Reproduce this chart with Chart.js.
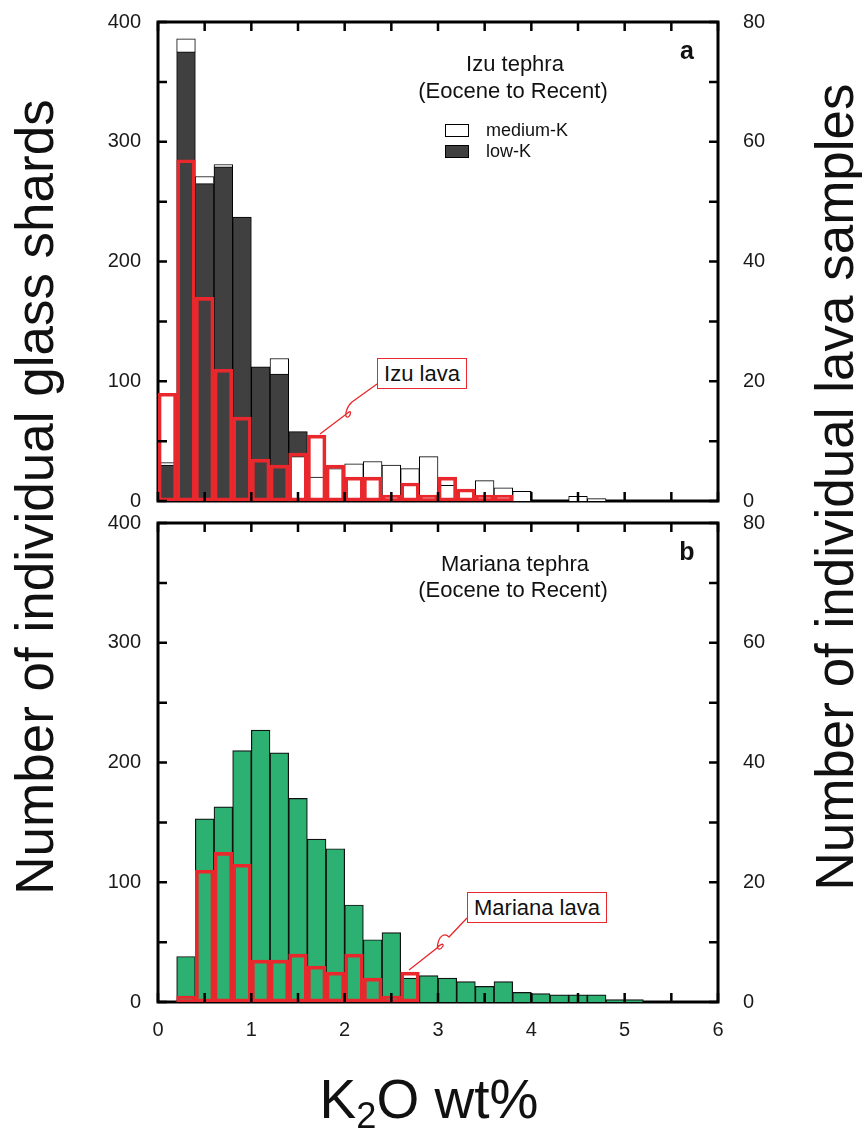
<!DOCTYPE html>
<html><head><meta charset="utf-8">
<script src="https://cdn.jsdelivr.net/npm/chart.js@4.4.1/dist/chart.umd.min.js"></script>
<style>
html,body{margin:0;padding:0;background:#fff;}
body{width:862px;height:1131px;position:relative;overflow:hidden;font-family:'Liberation Sans',Arial,sans-serif;color:#111;}
canvas{position:absolute;left:0;}
.t{position:absolute;white-space:nowrap;line-height:1;}
.c{transform:translate(-50%,-50%);}
.rot{transform:translate(-50%,-50%) rotate(-90deg);font-size:53px;}
.sw{position:absolute;width:22px;height:11px;border:1px solid #000;}
.lbox{position:absolute;border:1.5px solid #e8282c;background:#fff;font-size:22px;line-height:29px;text-align:center;box-sizing:border-box;}
sub{font-size:0.66em;line-height:0;vertical-align:-0.28em;}
svg{position:absolute;left:0;top:0;}
</style></head><body>
<canvas id="cA" width="862" height="559" style="top:-18px"></canvas>
<canvas id="cB" width="862" height="648" style="top:483px"></canvas>

<svg width="862" height="1131">
  <path d="M377,384 L352,402 C347,406 344,416 347,417 C350,418 352,410 349,412 L320,434" fill="none" stroke="#e8282c" stroke-width="1.3"/>
  <path d="M467,918 L449,937 C445,933 440,935 438,943 C436,950 440,951 443,946 C444,943 440,944 437,948 L409,970" fill="none" stroke="#e8282c" stroke-width="1.3"/>
</svg>

<div class="t c" style="left:515px;top:64px;font-size:22px;">Izu tephra</div>
<div class="t c" style="left:513px;top:91px;font-size:22px;">(Eocene to Recent)</div>
<div class="t c" style="left:687px;top:50px;font-size:25px;font-weight:bold;">a</div>
<div class="sw" style="left:445px;top:124px;background:#fff;"></div>
<div class="sw" style="left:445px;top:145px;background:#404040;"></div>
<div class="t" style="left:486px;top:121px;font-size:18px;">medium-K</div>
<div class="t" style="left:486px;top:142px;font-size:18px;">low-K</div>
<div class="lbox" style="left:377px;top:358px;width:90px;height:31px;">Izu lava</div>

<div class="t c" style="left:515px;top:564px;font-size:22px;">Mariana tephra</div>
<div class="t c" style="left:513px;top:590px;font-size:22px;">(Eocene to Recent)</div>
<div class="t c" style="left:687px;top:551px;font-size:25px;font-weight:bold;">b</div>
<div class="lbox" style="left:467px;top:892px;width:140px;height:31px;">Mariana lava</div>

<div class="t rot" style="left:34px;top:497px;">Number of individual glass shards</div>
<div class="t rot" style="left:834px;top:487px;">Number of individual lava samples</div>
<div class="t c" style="left:429px;top:1099px;font-size:55px;">K<sub>2</sub>O wt%</div>

<script>
// ---- data (K2O bins of 0.2 wt%, given by bin centres) ----
const k2oBinCentres = [0.1,0.3,0.5,0.7,0.9,1.1,1.3,1.5,1.7,1.9,2.1,2.3,2.5,2.7,2.9,3.1,3.3,3.5,3.7,3.9,4.1,4.3,4.5,4.7,4.9,5.1,5.3,5.5,5.7,5.9];
const izuLowK    = [30,375,265,279,237,112,106,21,0,0,0,0,0,0,0,0,0,0,0,0,0,0,0,0,0,0,0,0,0,0];
const izuMediumK = [2,11,6,2,0,0,13,37,20,27,31,33,30,27,37,13,9,17,11,8,0,0,4,2,0,0,0,0,0,0];
const izuLava    = [18,57,34,22,14,7,6,8,11,6,4,4,1,3,1,4,2,1,1,0,0,0,0,0,0,0,0,0,0,0];
const marianaTephra = [0,38,153,163,210,227,208,170,136,128,81,52,58,20,22,20,17,13,17,8,7,6,6,6,2,2,0,0,0,0];
const marianaLava   = [0,1,22,25,23,7,7,8,6,5,8,4,1,5,0,0,0,0,0,0,0,0,0,0,0,0,0,0,0,0];
const glassTicks = {min:0, max:400, step:50, labelEvery:100};
const lavaTicks  = {min:0, max:80, step:10, labelEvery:20};
const k2oTicks   = {min:0, max:6, step:0.5};
const mediumKBelowFromBin = 7; // bins where medium-K is drawn beneath low-K in the source figure

const RED = '#e8282c', DARK = '#404040', GREEN = '#2db172';
const pts = vals => k2oBinCentres.map((x,i)=>({x, y: vals[i] ? vals[i] : null}));

Chart.defaults.font.family = "'Liberation Sans', Arial, sans-serif";
Chart.defaults.color = '#1a1a1a';

const frameTicks = {
  id:'frameTicks',
  beforeDatasetsDraw(chart){
    const {ctx, chartArea:a} = chart;
    ctx.save(); ctx.strokeStyle='#000'; ctx.lineWidth=3;
    ctx.strokeRect(a.left, a.top, a.right-a.left, a.bottom-a.top);
    ctx.restore();
  },
  afterDatasetsDraw(chart){
    const {ctx, chartArea:a, scales} = chart;
    const L = 9;
    ctx.save(); ctx.strokeStyle='#000'; ctx.lineWidth=2.5; ctx.beginPath();
    scales.x.ticks.forEach(t=>{const p=scales.x.getPixelForValue(t.value);
      ctx.moveTo(p,a.bottom); ctx.lineTo(p,a.bottom-L); ctx.moveTo(p,a.top); ctx.lineTo(p,a.top+L);});
    scales.y.ticks.forEach(t=>{const p=scales.y.getPixelForValue(t.value); ctx.moveTo(a.left,p); ctx.lineTo(a.left+L,p);});
    scales.y2.ticks.forEach(t=>{const p=scales.y2.getPixelForValue(t.value); ctx.moveTo(a.right,p); ctx.lineTo(a.right-L,p);});
    ctx.stroke(); ctx.restore();
  }
};

function makeScales(showX, xHeight){
  return {
    x:{type:'linear', min:k2oTicks.min, max:k2oTicks.max, offset:false,
       grid:{display:false, drawTicks:false}, border:{display:false},
       ticks:{display:showX, stepSize:k2oTicks.step, autoSkip:false, maxRotation:0, padding:16,
              font:{size:20}, callback:v=>Number.isInteger(v)?v:''},
       afterFit:s=>{s.height=xHeight;}},
    y:{position:'left', stacked:true, min:glassTicks.min, max:glassTicks.max,
       grid:{display:false, drawTicks:false}, border:{display:false},
       ticks:{stepSize:glassTicks.step, padding:17, font:{size:20}, callback:v=>v%glassTicks.labelEvery===0?v:''},
       afterFit:s=>{s.width=158;}},
    y2:{position:'right', min:lavaTicks.min, max:lavaTicks.max,
       grid:{display:false, drawTicks:false}, border:{display:false},
       ticks:{stepSize:lavaTicks.step, padding:25, font:{size:20}, callback:v=>v%lavaTicks.labelEvery===0?v:''},
       afterFit:s=>{s.width=144;}}
  };
}
const common = (padTop, showX, xH) => ({
  responsive:false, animation:false, events:[],
  layout:{padding:{top:padTop,left:0,right:0,bottom:0}},
  plugins:{legend:{display:false}, tooltip:{enabled:false}},
  scales:makeScales(showX, xH)
});
const barBase = {barPercentage:1, categoryPercentage:1};
const lavaSet = (label, vals) => Object.assign({label, data:pts(vals), yAxisID:'y2', order:0, grouped:false,
  backgroundColor:'rgba(0,0,0,0)', borderColor:RED, borderWidth:3, borderSkipped:false}, barBase);

new Chart(document.getElementById('cA'), {
  type:'bar',
  data:{datasets:[
    lavaSet('Izu lava', izuLava),
    Object.assign({label:'medium-K', data:pts(izuMediumK.map((v,i)=>i>=mediumKBelowFromBin?v:0)), yAxisID:'y', stack:'teph', order:1,
      backgroundColor:'#fff', borderColor:'#000', borderWidth:1}, barBase),
    Object.assign({label:'low-K', data:pts(izuLowK), yAxisID:'y', stack:'teph', order:2,
      backgroundColor:DARK, borderColor:'#000', borderWidth:1}, barBase),
    Object.assign({label:'medium-K ', data:pts(izuMediumK.map((v,i)=>i<mediumKBelowFromBin?v:0)), yAxisID:'y', stack:'teph', order:3,
      backgroundColor:'#fff', borderColor:'#000', borderWidth:1}, barBase)
  ]},
  options:common(40, false, 40),
  plugins:[frameTicks]
});

new Chart(document.getElementById('cB'), {
  type:'bar',
  data:{datasets:[
    lavaSet('Mariana lava', marianaLava),
    Object.assign({label:'Mariana tephra', data:pts(marianaTephra), yAxisID:'y', stack:'teph', order:1,
      backgroundColor:GREEN, borderColor:'#111', borderWidth:1.2}, barBase)
  ]},
  options:common(40, true, 129),
  plugins:[frameTicks]
});
</script>
</body></html>
